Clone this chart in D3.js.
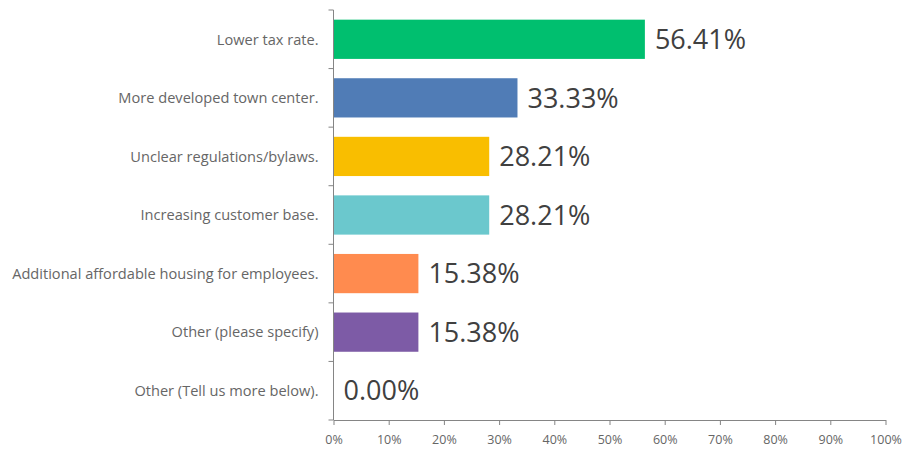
<!DOCTYPE html>
<html>
<head>
<meta charset="utf-8">
<script src="https://cdn.jsdelivr.net/npm/d3@7"></script>
<style>
  html, body { margin: 0; padding: 0; background: #fff; }
  svg { display: block; }
</style>
</head>
<body>
<svg id="chart" width="906" height="452"></svg>
<script>
// Survey responses, one bar per answer choice
const categories = [
  "Lower tax rate.",
  "More developed town center.",
  "Unclear regulations/bylaws.",
  "Increasing customer base.",
  "Additional affordable housing for employees.",
  "Other (please specify)",
  "Other (Tell us more below)."
];
const percentages = [56.41, 33.33, 28.21, 28.21, 15.38, 15.38, 0.00];
const barColors = ["#00bf6f", "#507cb6", "#f9be00", "#6bc8cd", "#ff8b4f", "#7d5ba6", "#cccccc"];
const xTickValues = [0, 10, 20, 30, 40, 50, 60, 70, 80, 90, 100];

const svg = d3.select("#chart");
const margin = { top: 10, right: 20, bottom: 32, left: 333.5 };
const width = 906 - margin.left - margin.right;
const height = 452 - margin.top - margin.bottom;

const g = svg.append("g").attr("transform", `translate(${margin.left},${margin.top})`);

const x = d3.scaleLinear().domain([0, 100]).range([0, 552]);
const y = d3.scaleBand().domain(categories).range([0, height]).paddingInner(0.33).paddingOuter(0.165);

const axisColor = "#858585";
const labelColor = "#666666";
const font = "'Open Sans', 'Liberation Sans', sans-serif";

// bars
g.selectAll("rect.bar")
  .data(categories)
  .join("rect")
  .attr("class", "bar")
  .attr("x", x(0))
  .attr("y", d => y(d))
  .attr("width", (d, i) => x(percentages[i]) - x(0))
  .attr("height", y.bandwidth())
  .attr("fill", (d, i) => barColors[i]);

// value labels
g.selectAll("text.value")
  .data(categories)
  .join("text")
  .attr("class", "value")
  .attr("x", (d, i) => x(percentages[i]) + 10)
  .attr("y", d => y(d) + y.bandwidth() / 2)
  .attr("dy", "0.36em")
  .attr("font-family", font)
  .attr("font-size", 27)
  .attr("fill", "#404040")
  .text((d, i) => percentages[i].toFixed(2) + "%");

// x axis
const xAxis = g.append("g")
  .attr("transform", `translate(0,${height})`)
  .call(d3.axisBottom(x).tickValues(xTickValues).tickFormat(d => d + "%").tickSize(5).tickSizeOuter(0));
xAxis.select(".domain").attr("stroke", axisColor);
xAxis.selectAll(".tick line").attr("stroke", axisColor);
xAxis.selectAll(".tick text")
  .attr("font-family", font).attr("font-size", 12.5).attr("fill", labelColor).attr("dy", "1.25em");

// y axis: ticks between categories
const yEdges = d3.range(categories.length + 1).map(i => i * (height / categories.length));
const yLine = g.append("g");
yLine.append("line")
  .attr("x1", 0).attr("x2", 0).attr("y1", 0).attr("y2", height)
  .attr("stroke", axisColor);
yLine.selectAll("line.tk")
  .data(yEdges)
  .join("line")
  .attr("class", "tk")
  .attr("x1", -5).attr("x2", 0)
  .attr("y1", d => d).attr("y2", d => d)
  .attr("stroke", axisColor);

// category labels
g.selectAll("text.cat")
  .data(categories)
  .join("text")
  .attr("class", "cat")
  .attr("x", -15)
  .attr("y", d => y(d) + y.bandwidth() / 2)
  .attr("dy", "0.36em")
  .attr("text-anchor", "end")
  .attr("font-family", font)
  .attr("font-size", 14.6)
  .attr("fill", labelColor)
  .text(d => d);
</script>
</body>
</html>
